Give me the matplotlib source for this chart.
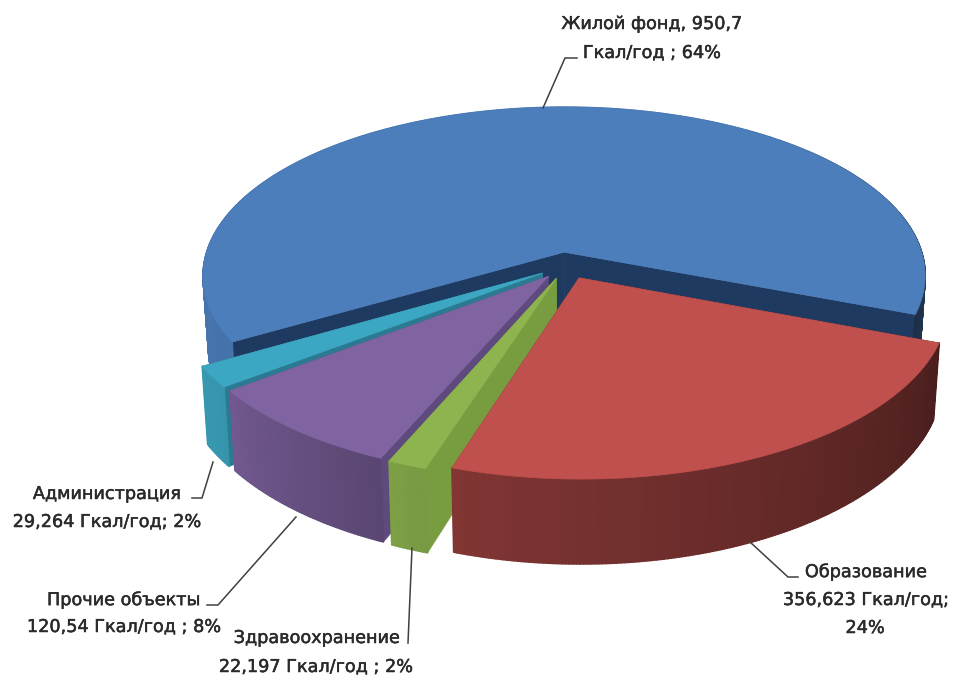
import numpy as np
import matplotlib
matplotlib.use("Agg")
import matplotlib.pyplot as plt
import matplotlib.patheffects as pe
from matplotlib.collections import PolyCollection
from matplotlib.colors import to_rgb
from matplotlib.patches import Polygon

# Heat consumption by consumer group
categories = ["Образование", "Здравоохранение", "Прочие объекты", "Администрация", "Жилой фонд"]
values = [356.623, 22.197, 120.54, 29.264, 950.7]
label_values = ["356,623 Гкал/год;", "22,197 Гкал/год ; 2%", "120,54 Гкал/год ; 8%",
                "29,264 Гкал/год; 2%", "Гкал/год ; 64%"]

top_colors = ["#C0504D", "#8DB44E", "#8064A2", "#3CA7C2", "#4C7EBB"]
face_colors = ["#7A2E2C", "#789C40", "#5F4A7E", "#2B7A92", "#1F3A60"]
wall_gain = [1.0, 1.27, 1.0, 1.0, 1.0]

# Perspective pie geometry, in figure pixels
CX, CY = 566.5, 265.5
RX, RY = 361.5, 169.0
DEPTH = 72.0
PERSP = 0.1414
TAPER = 0.015
EXPLODE = 0.08
START_DEG = 21.0


def project(x, y, z=0.0):
    """Map pie-plane coordinates to the screen; z=0 is the top face, z=1 the base."""
    s = 1.0 / (1.0 - PERSP * np.asarray(y))
    return (CX + RX * np.asarray(x) * s * (1.0 - TAPER * np.asarray(z)),
            CY + RY * np.asarray(y) * s + DEPTH * np.asarray(z) * s)


def wall_shade(deg):
    """Brightness of the outer wall; the light comes from the upper left."""
    d = (np.asarray(deg) + 360.0 - 20.0) % 360.0 + 20.0
    return np.interp(d, [20, 110, 145, 180, 300, 380], [0.38, 0.68, 0.90, 0.93, 0.95, 0.38])


fig = plt.figure(figsize=(9.63, 6.75), dpi=100)
ax = fig.add_axes([0, 0, 1, 1])
ax.set_xlim(0, 963)
ax.set_ylim(675, 0)
ax.axis("off")

shares = np.array(values) / np.sum(values)
edges = START_DEG + 360.0 * np.concatenate([[0.0], np.cumsum(shares)])

# Back slices first, so the nearer ones overlap them
for i in [4, 3, 2, 1, 0]:
    a0, a1 = edges[i], edges[i + 1]
    mid = np.radians((a0 + a1) / 2.0)
    ox, oy = EXPLODE * np.cos(mid), EXPLODE * np.sin(mid)
    th = np.radians(np.linspace(a0, a1, max(int((a1 - a0) * 2), 8)))
    ux, uy = ox + np.cos(th), oy + np.sin(th)
    base = np.array(to_rgb(top_colors[i]))
    z = 10 + (4 - i) * 10

    tx, ty = project(ux, uy, 0.0)
    bx, by = project(ux, uy, 1.0)

    # Flat cut faces running from the apex to both rim corners
    for j in (0, -1):
        cx0, cy0 = project(ox, oy, 0.0)
        cx1, cy1 = project(ox, oy, 1.0)
        face = [(cx0, cy0), (tx[j], ty[j]), (bx[j], by[j]), (cx1, cy1)]
        ax.add_patch(Polygon(face, closed=True, facecolor=face_colors[i],
                             edgecolor=face_colors[i], lw=0.5, zorder=z))

    # Outer wall as thin shaded strips
    quads, shades = [], []
    for k in range(len(th) - 1):
        quads.append([(tx[k], ty[k]), (tx[k + 1], ty[k + 1]), (bx[k + 1], by[k + 1]), (bx[k], by[k])])
        mid_deg = np.degrees((th[k] + th[k + 1]) / 2)
        shades.append(np.clip(base * wall_shade(mid_deg) * wall_gain[i], 0, 1))
    ax.add_collection(PolyCollection(quads, facecolors=shades, edgecolors=shades,
                                     linewidths=1.2, zorder=z + 1))

    # Top face
    ax0, ay0 = project(ox, oy, 0.0)
    top = [(ax0, ay0)] + list(zip(tx, ty))
    ax.add_patch(Polygon(top, closed=True, facecolor=top_colors[i],
                         edgecolor=top_colors[i], lw=0.5, zorder=z + 2))

# Leader lines from the slices to their labels
leaders = [
    ([750, 788, 798], [542, 577, 577]),
    ([412, 408, 408], [548, 643, 643]),
    ([296, 218, 207], [517, 605, 605]),
    ([213, 202, 192], [462, 498, 498]),
    ([543, 565, 577], [108, 58, 58]),
]
for xs, ys in leaders:
    ax.plot(xs, ys, color="#404040", lw=1.1, zorder=80, solid_joinstyle="miter")

font = dict(family="DejaVu Sans", fontsize=12.7, color="#2A2A2A", ha="center", va="center", zorder=90,
            path_effects=[pe.withStroke(linewidth=0.35, foreground="#2A2A2A")])
ax.text(866, 572, categories[0], **font)
ax.text(866, 600, label_values[0], **font)
ax.text(865, 628, "24%", **font)
ax.text(317, 638, categories[1], **font)
ax.text(316, 667, label_values[1], **font)
ax.text(124, 600, categories[2], **font)
ax.text(124, 627, label_values[2], **font)
ax.text(107, 494, categories[3], **font)
ax.text(107, 522, label_values[3], **font)
ax.text(652, 24, categories[4] + ", 950,7", **font)
ax.text(652, 53, label_values[4], **font)

fig.savefig("out.png", dpi=100, facecolor="white")
